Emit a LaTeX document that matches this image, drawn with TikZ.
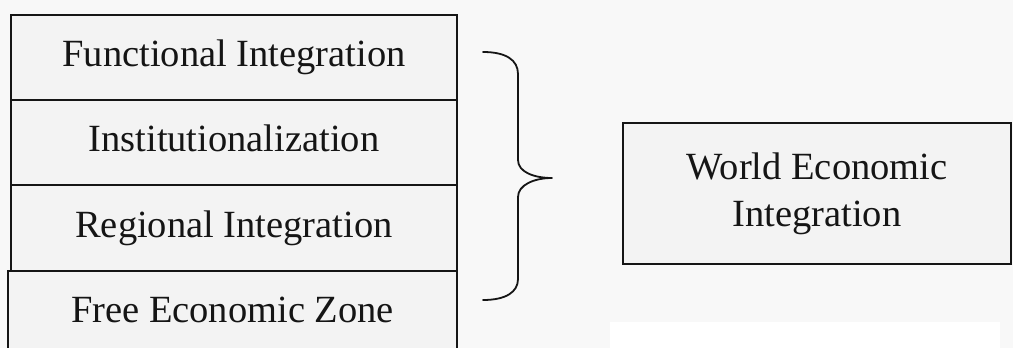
\documentclass[tikz,border=0pt]{standalone}
\usepackage{fontspec}
\setmainfont{Liberation Serif}
\definecolor{pagebg}{HTML}{F8F8F8}
\definecolor{boxfill}{HTML}{F3F3F3}
\definecolor{ink}{HTML}{151515}
\begin{document}
\begin{tikzpicture}[x=1pt,y=-1pt,
  stagebox/.style={draw=ink,line width=1.8pt,fill=boxfill,rectangle,
    minimum width=446pt,minimum height=85pt,inner sep=0pt,
    text height=0.7em,text depth=0.22em,text=ink},
  goalbox/.style={draw=ink,line width=1.8pt,fill=boxfill,rectangle,
    minimum width=388pt,minimum height=141pt,inner sep=0pt,align=center,text=ink},
  bracestroke/.style={draw=ink,line width=1.8pt,line cap=round,line join=round}]
\useasboundingbox (0,0) rectangle (1013,348);
\clip (0,0) rectangle (1013,348);
\fill[pagebg] (0,0) rectangle (1013,348);
\fill[white] (610,322) rectangle (1000,348);
\fontsize{38.5}{47}\selectfont
% stacked stages
\node[stagebox] (fi) at (234,57.5) {Functional Integration};
\node[stagebox] (inst) at (234,142.5) {Institutionalization};
\node[stagebox] (reg) at (234,228) {Regional Integration};
\node[stagebox,minimum width=449pt] (fez) at (232.5,313.5) {Free Economic Zone};
% target
\node[goalbox] (wei) at (817,193.5) {World Economic\\Integration};
% curly brace gathering the stages
\coordinate (btop) at (483,52);
\coordinate (btip) at (552,178);
\coordinate (bbot) at (483,300);
\draw[bracestroke] (btop) .. controls (506,52) and (518,60) .. (518,74)
  -- (518,160) .. controls (518,172) and (534,178) .. (btip)
  .. controls (534,178) and (518,185) .. (518,197)
  -- (518,279) .. controls (518,292) and (506,300) .. (bbot);
\end{tikzpicture}
\end{document}
